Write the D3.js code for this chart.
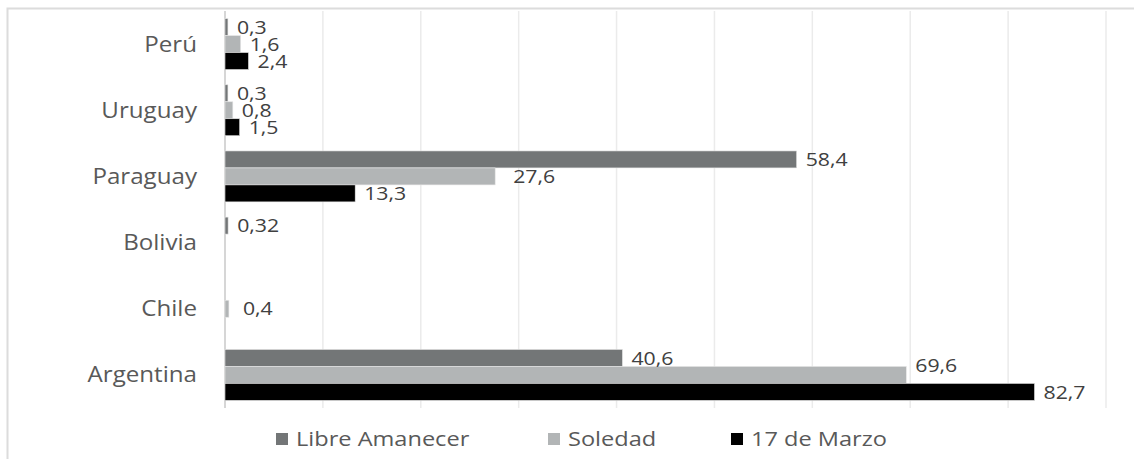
<!DOCTYPE html>
<html>
<head>
<meta charset="utf-8">
<script src="https://cdn.jsdelivr.net/npm/d3@7/dist/d3.min.js"></script>
<style>
  html, body { margin: 0; padding: 0; background: #fff; }
  svg { display: block; }
  text { font-family: "Open Sans", "Noto Sans", sans-serif; }
</style>
</head>
<body>
<svg id="chart" width="1134" height="459"></svg>
<script>
// Countries, top to bottom
const categories = ["Perú", "Uruguay", "Paraguay", "Bolivia", "Chile", "Argentina"];
// Series names
const seriesNames = ["Libre Amanecer", "Soledad", "17 de Marzo"];
// Values per series, in the order of categories (null = no bar)
const libreAmanecer = [0.3, 0.3, 58.4, 0.32, null, 40.6];
const soledad       = [1.6, 0.8, 27.6, null, 0.4, 69.6];
const marzo17       = [2.4, 1.5, 13.3, null, null, 82.7];
// Value labels as printed
const libreLabels   = ["0,3", "0,3", "58,4", "0,32", null, "40,6"];
const soledadLabels = ["1,6", "0,8", "27,6", null, "0,4", "69,6"];
const marzoLabels   = ["2,4", "1,5", "13,3", null, null, "82,7"];
// Horizontal axis ticks (gridlines only)
const xTicks = [0, 10, 20, 30, 40, 50, 60, 70, 80, 90];

const seriesValues = [libreAmanecer, soledad, marzo17];
const seriesLabels = [libreLabels, soledadLabels, marzoLabels];
const colors = ["#737677", "#b2b5b6", "#000000"];

const svg = d3.select("#chart");
const textScale = 1.15; // horizontal stretch of all lettering

// outer frame
svg.append("rect")
  .attr("x", 7.5).attr("y", 8.5).attr("width", 1200).attr("height", 600)
  .attr("fill", "none").attr("stroke", "#dcdcdc").attr("stroke-width", 2);

const x = d3.scaleLinear().domain([0, 90]).range([225, 1106]);
const y = d3.scaleBand().domain(categories).range([11, 408]).paddingInner(0.23).paddingOuter(0.115);
const ySub = d3.scaleBand().domain(seriesNames).range([0, y.bandwidth()]);

// gridlines
svg.append("g").selectAll("line")
  .data(xTicks.filter(d => d > 0))
  .join("line")
  .attr("x1", d => x(d)).attr("x2", d => x(d))
  .attr("y1", 11).attr("y2", 408)
  .attr("stroke", "#ebebeb").attr("stroke-width", 1.5);

// category axis line
svg.append("line")
  .attr("x1", x(0)).attr("x2", x(0)).attr("y1", 11).attr("y2", 408)
  .attr("stroke", "#c8c8c8").attr("stroke-width", 1.5);

function stretchedText(sel, px, py, str, size, fill, anchor) {
  sel.append("g")
    .attr("transform", `translate(${px},${py}) scale(${textScale},1)`)
    .append("text")
    .attr("text-anchor", anchor || "start")
    .attr("dy", "0.36em")
    .attr("font-size", size)
    .attr("fill", fill)
    .text(str);
}

// bars
const rows = [];
seriesNames.forEach((s, si) => {
  categories.forEach((c, ci) => {
    const v = seriesValues[si][ci];
    if (v == null) return;
    rows.push({ series: s, si, cat: c, value: v, label: seriesLabels[si][ci] });
  });
});

svg.append("g").selectAll("rect")
  .data(rows)
  .join("rect")
  .attr("x", x(0))
  .attr("y", d => y(d.cat) + ySub(d.series))
  .attr("width", d => Math.max(x(d.value) - x(0), 0))
  .attr("height", ySub.bandwidth())
  .attr("fill", d => colors[d.si])
  .attr("stroke", "#e6e6e6")
  .attr("stroke-width", 0.6);

// value labels (a few were dragged off their default spot)
const labelNudge = { "Paraguay|Soledad": [9, 0], "Argentina|Soledad": [0, -10], "Chile|Soledad": [5, 0] };
const labelLayer = svg.append("g");
rows.forEach(d => {
  const n = labelNudge[d.cat + "|" + d.series] || [0, 0];
  stretchedText(labelLayer,
    x(d.value) + 9 + n[0],
    y(d.cat) + ySub(d.series) + ySub.bandwidth() / 2 + n[1],
    d.label, 18.5, "#404040");
});

// category labels
const catLayer = svg.append("g");
categories.forEach(c => {
  stretchedText(catLayer, 197, y(c) + y.bandwidth() / 2, c, 21, "#595959", "end");
});

// legend
const legendX = [276, 548, 731];
const legend = svg.append("g");
seriesNames.forEach((s, i) => {
  legend.append("rect")
    .attr("x", legendX[i]).attr("y", 433).attr("width", 12).attr("height", 12)
    .attr("fill", colors[i]);
  stretchedText(legend, legendX[i] + 20, 439, s, 20.5, "#595959");
});
</script>
</body>
</html>
